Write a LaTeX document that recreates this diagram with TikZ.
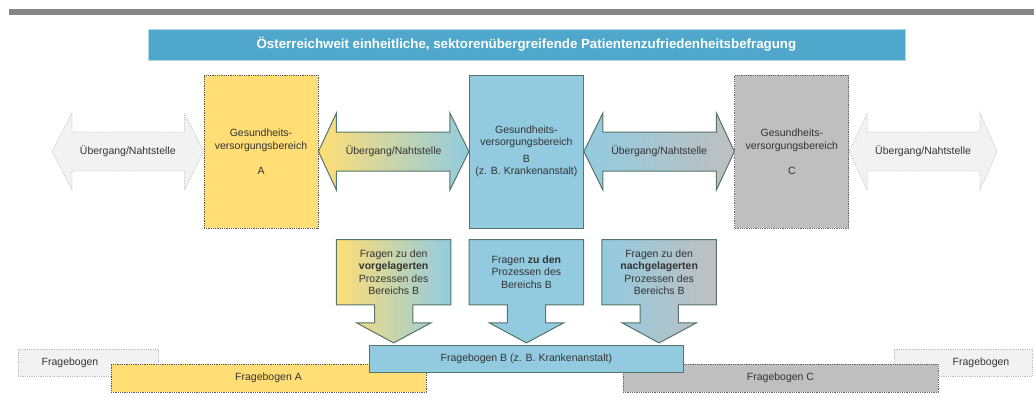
\documentclass[tikz,border=0pt]{standalone}
\usepackage{fontspec}
\setmainfont{Liberation Sans}
\usetikzlibrary{positioning,calc}
\definecolor{bereichA}{HTML}{FFDE75}
\definecolor{bereichB}{HTML}{92CBDF}
\definecolor{bereichC}{HTML}{BFBFBF}
\definecolor{titel}{HTML}{4FA8CB}
\definecolor{rahmen}{HTML}{557566}
\definecolor{leer}{HTML}{F2F2F2}
\definecolor{schrift}{HTML}{333333}
\pgfdeclarelayer{bg}
\pgfsetlayers{bg,main}
% Doppelpfeil zwischen zwei Punkten: Stil, links, rechts, Kopflaenge links, Kopflaenge rechts
\newcommand{\nahtpfeil}[5]{%
  \path[#1] (#2) -- ++(#4,38.5) -- ++(0,-19) -- ($(#3)+(-#5,19.5)$) -- ++(0,19) -- (#3)
    -- ++(-#5,-38.5) -- ++(0,19) -- ($(#2)+(#4,-19.5)$) -- ++(0,-19) -- cycle;}
% Pfeil nach unten um einen Fragen-Knoten
\newcommand{\fragepfeil}[2]{%
  \path[#1] (#2.north west) -- (#2.north east) -- (#2.south east) -- ++(-38,0) -- ++(0,-18) -- ++(18,0)
    -- ($(#2.south)+(0,-38)$) -- ($(#2.south)+(-37,-18)$) -- ++(18,0) -- ++(0,18) -- (#2.south west) -- cycle;}

\begin{document}
\begin{tikzpicture}[x=1pt,y=1pt,node distance=150.5pt,
  every node/.style={align=center,font=\fontsize{10.5}{12.5}\selectfont,text=schrift,inner sep=0pt},
  bereich/.style={minimum width=114pt,minimum height=153pt},
  frage/.style={minimum width=114pt,minimum height=65pt},
  bogen/.style={minimum height=27pt},
  gepunktet/.style={densely dotted,line width=0.8pt},
  pfeil/.style={draw=rahmen,line width=1pt}]
\useasboundingbox (0,0) rectangle (1034,-407);
\fill[black!47] (9,-9) rectangle (1034,-15);

% Bereiche
\node[bereich,fill=bereichA,draw=black!65,gepunktet] (boxA) at (261,-151.5) {Gesundheits-\\versorgungsbereich\\[12.5pt]A};
\node[bereich,fill=bereichB,draw=rahmen,line width=1pt,right=of boxA] (boxB) {Gesundheits-\\versorgungsbereich\\[4pt]B\\(z. B. Krankenanstalt)};
\node[bereich,fill=bereichC,draw=black!60,gepunktet,right=of boxB] (boxC) {Gesundheits-\\versorgungsbereich\\[12.5pt]C};
\node[fill=titel,draw=titel!45!white,line width=0.8pt,minimum width=757pt,minimum height=31pt,text=white,
  font=\bfseries\fontsize{13.3}{15}\selectfont,above=14pt of boxB] (titel) {Österreichweit einheitliche, sektorenübergreifende Patientenzufriedenheitsbefragung};

% Uebergaenge
\coordinate (linksEnde) at (52,-151.5);
\coordinate (rechtsEnde) at (997,-151.5);
\node (uebL) at ($(linksEnde)!0.5!(boxA.west)$) {Übergang/Nahtstelle};
\node (uebAB) at ($(boxA.east)!0.5!(boxB.west)$) {Übergang/Nahtstelle};
\node (uebBC) at ($(boxB.east)!0.5!(boxC.west)$) {Übergang/Nahtstelle};
\node (uebR) at ($(boxC.east)!0.5!(rechtsEnde)$) {Übergang/Nahtstelle};

% Fragen
\node[frage,below=11pt of boxB] (frage2) {Fragen \textbf{zu den}\\Prozessen des\\Bereichs B};
\node[frage] (frage1) at (frage2 -| uebAB) {Fragen zu den\\\textbf{vorgelagerten}\\Prozessen des\\Bereichs B};
\node[frage] (frage3) at (frage2 -| uebBC) {Fragen zu den\\\textbf{nachgelagerten}\\Prozessen des\\Bereichs B};

% Frageboegen
\node[bogen,minimum width=140pt,fill=leer,draw=black!25,gepunktet,label={[xshift=-18pt]center:Fragebogen}] (bogenL) at (88,-362.5) {};
\node[bogen,minimum width=138pt,fill=leer,draw=black!25,gepunktet,label={[xshift=18pt]center:Fragebogen}] (bogenR) at (963,-362.5) {};
\node[bogen,minimum width=315pt,minimum height=28pt,fill=bereichA,draw=black!65,gepunktet] (bogenA) at (268.5,-378) {Fragebogen A};
\node[bogen,minimum width=315pt,minimum height=28pt,fill=bereichC,draw=black!60,gepunktet] (bogenC) at (780.5,-378) {Fragebogen C};
\node[bogen,minimum width=314pt,fill=bereichB,draw=rahmen,line width=1pt,below=40pt of frage2] (bogenB) {Fragebogen B (z. B. Krankenanstalt)};

\begin{pgfonlayer}{bg}
\nahtpfeil{fill=leer,draw=black!22,gepunktet}{linksEnde}{boxA.west}{20}{19}
\nahtpfeil{pfeil,left color=bereichA,right color=bereichB}{boxA.east}{boxB.west}{18}{19}
\nahtpfeil{pfeil,left color=bereichB,right color=bereichC}{boxB.east}{boxC.west}{19}{18}
\nahtpfeil{fill=leer,draw=black!22,gepunktet}{boxC.east}{rechtsEnde}{18}{17}
\fragepfeil{pfeil,left color=bereichA,right color=bereichB}{frage1}
\fragepfeil{pfeil,fill=bereichB}{frage2}
\fragepfeil{pfeil,left color=bereichB,right color=bereichC}{frage3}
\end{pgfonlayer}
\end{tikzpicture}
\end{document}
